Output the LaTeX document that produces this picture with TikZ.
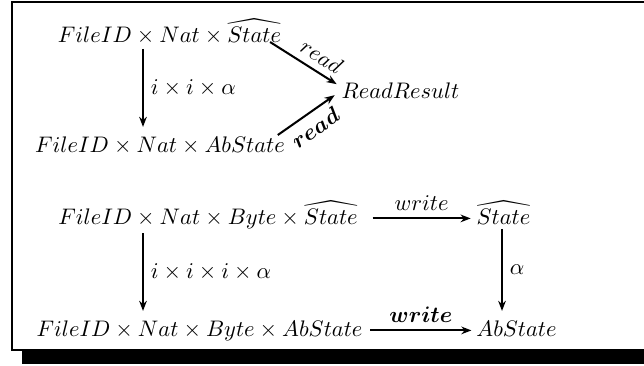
\documentclass[tikz,border=0pt]{standalone}
\usepackage{amsmath,amssymb,bm}
\usetikzlibrary{arrows.meta,calc}
\begin{document}
\begin{tikzpicture}[x=0.4444pt,y=-0.4444pt,
  obj/.style={inner sep=2pt, anchor=base},
  arr/.style={line width=0.9pt, -{Stealth[length=4.5pt,width=3.4pt]}},
  lbl/.style={inner sep=2pt}]
\useasboundingbox (0,0) rectangle (644,365);
\clip (0,0) rectangle (644,365);
% frame with shadow
\fill[black] (22,351) rectangle (700,364);
\draw[line width=1pt] (700,2) -- (12,2) -- (12,350) -- (700,350);
% upper diagram
\node[obj] (TA) at (169.5,42) {$FileID\times Nat\times\widehat{State}$};
\node[obj] (TB) at (160,152) {$FileID\times Nat\times AbState$};
\node[obj] (RR) at (400.5,98) {$ReadResult$};
\coordinate (v1) at (143,0);
\coordinate (v2) at (502,0);
\draw[arr] (TA.south -| v1) -- ([yshift=2pt]TB.north -| v1)
  node[midway,right,lbl,xshift=1pt] {$i\times i\times\alpha$};
\draw[arr] ($(TA.base east)+(-16,0)$) -- ($(RR.west)+(0,-6)$)
  node[pos=0.65,sloped,above,lbl,inner sep=3pt] {$read$};
\draw[arr] ($(TB.base east)+(-12,-17)$) -- ($(RR.west)+(-2,5)$)
  node[pos=0.5,sloped,below,lbl,inner sep=3pt] {$\boldsymbol{read}$};
% lower diagram
\node[obj] (BA) at (208,224) {$FileID\times Nat\times Byte\times\widehat{State}$};
\node[obj] (BS) at (503.5,224) {$\widehat{State}$};
\node[obj] (BB) at (199.5,336) {$FileID\times Nat\times Byte\times AbState$};
\node[obj] (BAb) at (516.5,336) {$AbState$};
\draw[arr] ($(BA.base east)+(10,-5.6)$) -- ($(BS.base west)+(-1,-5.6)$)
  node[midway,above,lbl,yshift=1pt] {$write$};
\draw[arr] ($(BB.base east)+(3,-5.6)$) -- ($(BAb.base west)+(0,-5.6)$)
  node[midway,above,lbl,yshift=1pt] {$\boldsymbol{write}$};
\draw[arr] (BA.south -| v1) -- ([yshift=2pt]BB.north -| v1)
  node[midway,right,lbl,xshift=1pt] {$i\times i\times i\times\alpha$};
\draw[arr] (BS.south -| v2) -- ([yshift=2pt]BAb.north -| v2)
  node[midway,right,lbl,xshift=1pt] {$\alpha$};
\end{tikzpicture}
\end{document}
